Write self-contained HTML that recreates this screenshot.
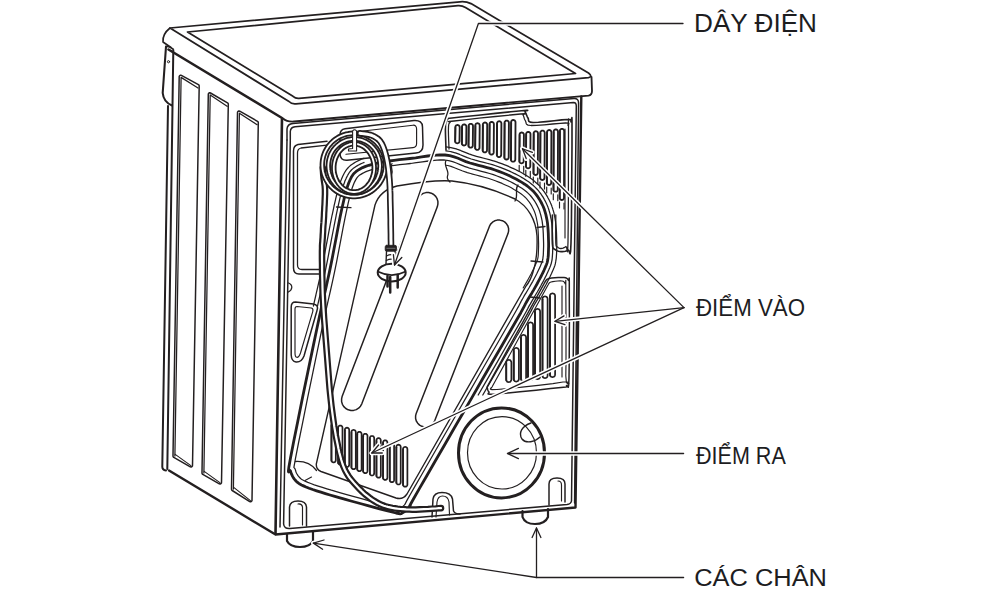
<!DOCTYPE html>
<html><head><meta charset="utf-8">
<style>
html,body{margin:0;padding:0;background:#fff;}
svg{display:block;}
text{font-family:"Liberation Sans",sans-serif;fill:#1d1d1f;}
</style></head>
<body>
<svg width="1000" height="601" viewBox="0 0 1000 601">
<g fill="none" stroke="#231f20" stroke-linecap="round" stroke-linejoin="round" stroke-width="1.4">
<path d="M170,28 L460,1.8 Q466,1.2 471,3.6 L588.5,73 Q593,76.5 588.5,77.6 L296,103.8 Q291.5,104.3 289,101.5 Z" stroke-width="1.72" />
<path d="M187.5,32 L458,5.7 Q462,5.4 465.5,7.6 L575.5,73.5 L299,98.3 Q295.5,98.6 293,96.3 Z" stroke-width="1.72" />
<path d="M170,28 C165,32 162.5,37 163,42 L171,47.5" stroke-width="1.61" />
<path d="M591.5,77 L592,91 Q592,95 588.5,95.6 L294,121.5 Q287,122 283,118.5" stroke-width="1.84" />
<path d="M168.5,49.5 L282,118 L275.5,534" stroke-width="2.6" />
<path d="M581.3,96.5 L575.5,507.5 L275.5,534.5 L169,470.5" stroke-width="2.4" />
<path d="M166,46.6 L162.7,93 Q163.5,102 172,105.5" stroke-width="2.07" />
<path d="M166,46.6 Q169,46 173,49" stroke-width="1.61" />
<circle cx="168.5" cy="61.7" r="1.1" stroke-width="1"/>
<path d="M168,106 L162.3,466 Q162,470 166,470.5" stroke-width="2.0" />
<path d="M173.3,50 L167.3,469" stroke-width="2.0" />
<path d="M181.4,75.4 L180.8,75.2 L180.2,75.3 L179.7,75.6 L179.3,76.1 L179.2,76.7 L173.0,456.1 L173.1,456.6 L173.4,457.1 L173.8,457.4 L190.3,466.8 L190.9,466.9 L191.5,466.9 L192.0,466.6 L192.4,466.1 L192.5,465.5 L199.2,85.9 L199.1,85.4 L198.8,84.9 L198.4,84.6 Z" stroke-width="1.49" />
<path d="M174.9,456.0 L181.1,77.4 L198.0,88.0" stroke-width="1.26" />
<path d="M175.2,454.4 L190.9,465.6" stroke-width="1.15" />
<path d="M210.5,93.0 L209.9,92.8 L209.3,92.8 L208.8,93.2 L208.4,93.7 L208.3,94.3 L202.0,473.1 L202.1,473.6 L202.4,474.1 L202.8,474.4 L219.3,483.8 L219.9,483.9 L220.5,483.9 L221.0,483.6 L221.4,483.1 L221.5,482.5 L228.3,104.2 L228.2,103.7 L227.9,103.2 L227.5,102.9 Z" stroke-width="1.49" />
<path d="M203.9,473.0 L210.2,94.9 L227.1,106.3" stroke-width="1.26" />
<path d="M204.2,471.4 L219.9,482.6" stroke-width="1.15" />
<path d="M239.7,111.2 L239.1,111.0 L238.5,111.1 L238.0,111.4 L237.6,111.9 L237.5,112.5 L231.5,489.2 L231.6,489.7 L231.8,490.1 L232.2,490.5 L249.7,501.6 L250.3,501.8 L251.0,501.7 L251.5,501.4 L251.9,500.9 L252.0,500.3 L258.3,122.6 L258.2,122.1 L257.9,121.6 L257.5,121.3 Z" stroke-width="1.49" />
<path d="M233.4,489.0 L239.4,113.2 L257.1,124.7" stroke-width="1.26" />
<path d="M233.7,487.4 L250.4,500.6" stroke-width="1.15" />
<path d="M287,140 L287,129 Q287.3,123.9 293,123.4 L574,98.5 Q578.6,98.3 578.6,103 L574.6,503" stroke-width="1.49" />
<path d="M287,140 L280,527" stroke-width="1.49" />
<path d="M290.3,140 L290.3,131.5 Q290.6,127.2 295,126.8 L573.5,102.5 Q576.3,102.5 576.3,106 L571.5,501 Q571,504 567,504.5 L290,528.5 Q284,529 283.6,524 L290.3,140" stroke-width="1.49" />
<path d="M350.0,180.0 L351.4,177.1 L352.8,174.9 L354.2,173.2 L355.9,171.7 L357.7,170.4 L360.0,169.0 L362.6,167.6 L365.6,166.4 L368.8,165.3 L372.2,164.3 L376.0,163.4 L380.0,162.5 L384.4,161.7 L389.1,161.0 L394.1,160.3 L399.3,159.7 L404.6,159.1 L410.0,158.5 L415.7,157.8 L421.7,156.9 L427.8,156.0 L433.9,155.3 L439.7,154.9 L445.0,155.0 L449.7,155.7 L454.1,156.9 L458.1,158.3 L462.0,160.0 L465.9,161.6 L470.0,163.0 L474.2,164.2 L478.5,165.3 L482.8,166.4 L487.0,167.6 L491.1,168.7 L495.0,170.0 L498.8,171.4 L502.5,172.8 L506.1,174.2 L509.5,175.8 L512.8,177.4 L516.0,179.0 L519.0,180.7 L521.9,182.4 L524.7,184.2 L527.3,186.0 L529.7,188.0 L532.0,190.0 L534.1,192.1 L536.0,194.4 L537.7,196.7 L539.3,199.1 L540.7,201.5 L542.0,204.0 L543.2,206.5 L544.2,209.0 L545.0,211.6 L545.8,214.3 L546.4,217.1 L547.0,220.0 L547.5,223.1 L547.8,226.4 L548.1,229.9 L548.3,233.3 L548.4,236.7 L548.5,240.0 L548.6,243.2 L548.6,246.4 L548.5,249.6 L548.4,252.7 L548.3,255.5 L548.0,258.0 L547.7,260.1 L547.4,261.7 L547.0,263.1 L546.5,264.5 L545.8,266.1 L545.0,268.0 L544.0,270.3 L542.8,272.8 L541.5,275.5 L540.0,278.3 L538.5,281.1 L537.0,284.0 L535.4,286.9 L533.7,289.9 L531.9,292.9 L530.0,295.9 L528.2,299.0 L526.5,302.0 L525.3,304.1 L524.8,305.2 L524.2,306.3 L523.1,308.4 L520.8,312.7 L516.6,320.0 L510.1,331.3 L501.8,345.7 L492.2,362.3 L482.1,379.8 L472.2,397.1 L463.0,413.0 L454.0,428.5 L444.7,444.8 L435.4,460.8 L426.8,475.7 L419.5,488.4 L414.0,498.0 L410.8,503.8 L409.4,506.4 L409.4,506.9 L409.9,506.3 L410.3,505.6 L410.0,506.0 L409.0,507.2 L407.9,508.5 L406.7,509.7 L405.4,510.8 L404.2,511.8 L403.0,512.5 L402.1,513.0 L401.7,513.5 L401.2,513.7 L400.3,513.8 L398.7,513.5 L396.0,513.0 L391.9,512.0 L386.6,510.7 L380.6,509.1 L374.2,507.4 L367.9,505.6 L362.0,504.0 L356.5,502.5 L350.9,501.0 L345.4,499.4 L340.0,497.9 L334.8,496.4 L330.0,495.0 L325.4,493.6 L320.9,492.2 L316.6,490.8 L312.7,489.5 L309.1,488.2 L306.0,487.0 L303.5,485.9 L301.5,485.0 L299.8,484.1 L298.5,483.2 L297.2,482.2 L296.0,481.0 L294.8,479.6 L293.6,478.1 L292.6,476.4 L291.8,474.7 L291.0,472.9 L290.5,471.0 L289.9,470.3 L289.1,471.1 L288.5,471.9 L288.4,471.0 L288.9,466.9 L290.5,458.0 L293.5,442.5 L297.8,421.3 L302.7,396.8 L307.9,371.8 L312.7,348.6 L316.6,330.0 L319.5,316.3 L321.9,305.6 L323.9,296.8 L325.7,288.9 L327.5,280.8 L329.5,271.6 L331.7,260.9 L333.9,249.5 L336.1,237.9 L338.2,226.8 L340.2,216.6 L342.0,208.0 L343.6,201.1 L344.9,195.4 L346.2,190.7 L347.4,186.8 L348.6,183.3 Z" stroke-width="2.8" />
<path d="M293.9,467.3 L294.1,467.6 L294.8,468.5 L295.3,469.6 L295.8,471.3 L296.3,472.7 L297.0,474.0 L297.8,475.3 L298.6,476.4 L299.6,477.5 L300.6,478.5 L301.5,479.2 L302.4,479.8 L303.7,480.5 L305.5,481.4 L307.9,482.4 L310.8,483.5 L314.3,484.8 L318.2,486.1 L322.4,487.4 L326.9,488.8 L331.4,490.2 L336.3,491.6 L341.4,493.1 L346.7,494.6 L352.2,496.1 L357.8,497.7 L363.3,499.2 L363.3,499.2 L369.2,500.8 L375.5,502.5 L381.9,504.3 L387.9,505.9 L393.1,507.2 L397.0,508.1 L399.6,508.6 L399.8,508.6 L400.3,508.3 L400.4,508.2 L401.4,507.6 L402.3,507.0 L403.2,506.1 L404.2,505.1 L404.9,504.3 L405.0,504.2 L406.3,501.6 L406.4,501.4 L409.6,495.6 L409.7,495.5 L415.2,485.9 L415.2,485.9 L422.5,473.2 L431.1,458.3 L440.3,442.3 L449.7,426.0 L458.7,410.5 L467.8,394.6 L477.8,377.3 L487.9,359.8 L497.5,343.2 L505.8,328.8 L512.3,317.5 L516.4,310.2 L518.7,306.1 L519.8,304.0 L520.3,303.0 L520.3,303.0 L520.9,301.9 L520.9,301.7 L522.1,299.6 L522.2,299.5 L523.9,296.5 L523.9,296.4 L525.7,293.4 L525.8,293.4 L527.6,290.3 L529.4,287.3 L531.0,284.4 L532.6,281.6 L534.1,278.8 L535.6,276.0 L537.0,273.3 L538.3,270.6 L539.4,268.2 L540.4,266.0 L541.2,264.1 L541.8,262.7 L542.2,261.6 L542.5,260.5 L542.8,259.2 L543.0,257.4 L543.3,255.1 L543.4,252.4 L543.5,249.5 L543.6,246.4 L543.6,243.3 L543.5,240.1 L543.4,236.9 L543.3,233.6 L543.1,230.2 L542.9,226.9 L542.5,223.8 L542.1,220.9 L541.5,218.1 L540.9,215.5 L540.2,213.1 L539.5,210.8 L538.6,208.5 L537.5,206.2 L536.3,203.9 L535.0,201.7 L533.6,199.6 L532.0,197.5 L530.4,195.5 L528.5,193.6 L526.5,191.8 L524.3,190.0 L521.9,188.3 L519.3,186.7 L516.5,185.0 L513.6,183.4 L510.6,181.8 L507.4,180.3 L504.1,178.8 L500.6,177.4 L497.0,176.0 L493.4,174.7 L489.6,173.5 L485.6,172.4 L481.5,171.3 L477.2,170.2 L477.2,170.2 L472.9,169.0 L472.8,169.0 L468.6,167.8 L468.4,167.7 L464.3,166.3 L464.0,166.2 L460.1,164.6 L460.1,164.6 L456.3,163.0 L452.6,161.6 L448.7,160.6 L444.6,160.0 L439.8,159.9 L434.3,160.3 L428.5,161.0 L422.4,161.8 L416.4,162.7 L416.3,162.7 L410.7,163.5 L410.6,163.5 L405.2,164.1 L405.1,164.1 L399.8,164.7 L394.7,165.3 L389.8,165.9 L385.2,166.6 L381.0,167.4 L377.1,168.3 L373.5,169.1 L370.3,170.1 L367.3,171.1 L364.8,172.2 L362.5,173.4 L360.5,174.6 L359.0,175.6 L357.9,176.6 L356.9,177.8 L355.8,179.6 L354.5,182.1 L353.3,185.1 L352.1,188.3 L351.0,192.1 L349.8,196.6 L348.4,202.2 L346.9,209.1 L345.1,217.6 L343.1,227.7 L341.0,238.8 L338.8,250.4 L338.8,250.4 L336.6,261.8 L336.6,261.9 L334.4,272.6 L334.4,272.6 L332.4,281.9 L332.4,281.9 L330.6,290.0 L330.6,290.0 L328.8,297.9 L326.8,306.7 L324.4,317.4 L321.5,331.0 L317.6,349.7 L312.8,372.8 L307.6,397.8 L302.7,422.3 L298.4,443.5 L295.4,458.9 Z" stroke-width="1.26" />
<path d="M478.2,395.0 L485.8,381.9 L495.9,364.4 L505.4,347.8 L513.8,333.3 L513.8,333.3 L520.2,322.1 L520.3,322.1 L524.4,314.7 L524.4,314.7 L526.8,310.5 L526.8,310.4 L528.0,308.3 L528.0,308.1 L528.5,307.1 L529.0,306.1 L530.2,304.1 L531.9,301.1 L533.7,298.1 L535.5,295.0 L535.5,295.0 L537.3,292.0 L537.3,292.0 L539.0,289.0 L539.1,288.9 L540.7,286.0 L540.7,286.0 L542.2,283.1 L542.3,283.1 L543.8,280.3 L543.8,280.2 L545.2,277.4 L545.2,277.4 L546.6,274.7 L546.6,274.6 L547.8,272.1 L547.8,272.0 L548.8,269.7 L548.9,269.6 L549.7,267.7 L549.7,267.7 L550.3,266.1 L550.4,266.0 L550.9,264.6 L551.0,264.3 L551.4,262.8 L551.5,262.5 L551.8,260.9 L551.9,260.7 L552.2,258.6 L552.2,258.4 L552.4,255.9 L552.4,255.7 L552.6,252.9 L552.6,252.8 L552.7,249.8 L552.7,249.7 L552.8,246.5 L552.8,246.4 L552.8,243.2 L552.8,243.1 L552.7,239.9 L552.7,239.9 L552.6,236.6 L552.6,236.6 L552.5,233.2 L552.5,233.1 L552.3,229.7 L552.3,229.6 L552.0,226.1 L552.0,226.0 L551.7,222.7 L551.6,222.5 L551.2,219.4 L551.1,219.2 L550.5,216.3 L550.5,216.1 L549.9,213.3 L549.8,213.2 L549.1,210.5 L549.0,210.3 L548.2,207.7 L548.1,207.5 L547.1,205.0 L547.0,204.7 L545.8,202.2 L545.7,202.0 L544.4,199.6 L544.3,199.4 L542.9,196.9 L542.8,196.8 L541.2,194.4 L541.1,194.2 L539.3,191.9 L539.2,191.7 L537.3,189.4 L537.1,189.2 L535.0,187.1 L534.8,186.9 L532.5,184.8 L532.3,184.7 L529.9,182.7 L529.7,182.6 L527.1,180.8 L527.0,180.7 L524.2,178.9 L524.1,178.8 L521.2,177.1 L521.1,177.0 L518.0,175.3 L517.9,175.3 L514.8,173.6 L514.6,173.6 L511.3,172.0 L511.2,171.9 L507.8,170.4 L507.7,170.4 L504.1,168.9 L504.0,168.9 L500.3,167.4 L500.2,167.4 L496.4,166.0 L496.3,166.0 L492.4,164.7 L492.2,164.7 L488.1,163.5 L488.0,163.5 L483.8,162.4 L483.8,162.4 L479.5,161.3 L475.3,160.2 L471.3,159.0 L467.4,157.7 L463.6,156.1 L459.7,154.5 L459.6,154.4 L455.5,152.9 L455.2,152.8 L450.8,151.6 L450.3,151.5 L446.0,150.9 M364.0,162.5 L363.9,162.5 L361.0,163.8 L360.7,163.9 L358.1,165.3 L357.8,165.4 L355.6,166.8 L355.3,166.9 L353.4,168.3 L353.0,168.6 L351.4,170.0 L351.0,170.5 L349.6,172.2 L349.2,172.7 L347.9,174.9 L347.7,175.3 L346.2,178.1 L346.1,178.4 L344.7,181.6 L344.7,181.9 L343.4,185.3 L343.3,185.5 L342.1,189.5 L342.1,189.6 L340.9,194.3 L340.8,194.4 L339.5,200.1 L339.5,200.1 L337.9,207.1 L337.9,207.1 L336.1,215.7 L336.1,215.8 L334.1,225.9 L334.1,226.0 L331.9,237.1 L331.9,237.1 L329.7,248.7 L327.5,260.1 L325.4,270.7 L323.4,279.9 L321.6,287.9 L319.8,295.8 L319.8,295.8 L317.8,304.6 L317.8,304.7 L317.5,306.0" stroke-width="1.26" />
<path d="M482.8,395.0 L489.2,383.9 L499.3,366.4 L508.9,349.8 L517.2,335.3 L517.3,335.3 L523.7,324.1 L523.7,324.1 L527.9,316.7 L527.9,316.6 L530.3,312.4 L530.4,312.3 L531.5,310.1 L531.6,309.9 L532.1,308.9 L532.6,308.0 L533.6,306.0 L535.3,303.1 L537.1,300.1 L538.9,297.1 L538.9,297.1 L540.7,294.0 L540.8,294.0 L542.5,291.0 L542.5,290.9 L544.2,288.0 L544.2,287.9 L545.8,285.0 L545.8,285.0 L547.3,282.1 L547.3,282.0 L548.8,279.2 L548.8,279.1 L550.1,276.4 L550.2,276.3 L551.4,273.8 L551.5,273.6 L552.5,271.3 L552.5,271.2 L553.4,269.3 L553.4,269.2 L554.0,267.6 L554.2,267.3 L554.7,265.9 L554.9,265.4 L555.3,263.9 L555.4,263.3 L555.7,261.7 L555.8,261.2 L556.1,259.2 L556.2,258.8 L556.4,256.3 L556.4,256.0 L556.6,253.2 L556.6,253.0 L556.7,249.9 L556.7,249.7 L556.8,246.6 L556.8,246.4 L556.8,243.2 L556.8,243.1 L556.7,239.8 L556.7,239.8 L556.6,236.5 L556.6,236.4 L556.5,233.0 L556.5,232.9 L556.3,229.4 L556.3,229.3 L556.0,225.8 L556.0,225.6 L555.6,222.2 L555.6,221.9 L555.1,218.8 L555.0,218.4 L554.5,215.5 L554.4,215.2 L553.8,212.4 L553.7,212.1 L552.9,209.4 L552.8,209.0 L551.9,206.4 L551.8,206.0 L550.8,203.5 L550.6,203.1 L549.4,200.5 L549.3,200.2 L547.9,197.7 L547.8,197.4 L546.3,194.9 L546.1,194.6 L544.5,192.2 L544.3,191.8 L542.5,189.5 L542.2,189.1 L540.3,186.8 L540.0,186.4 L537.9,184.3 L537.5,183.9 L535.2,181.9 L534.8,181.5 L532.4,179.6 L532.0,179.3 L529.4,177.5 L529.1,177.3 L526.4,175.5 L526.1,175.4 L523.2,173.6 L523.0,173.5 L520.0,171.8 L519.8,171.7 L516.6,170.1 L516.4,170.0 L513.1,168.4 L512.8,168.3 L509.4,166.8 L509.2,166.7 L505.6,165.2 L505.4,165.1 L501.7,163.7 L501.6,163.6 L497.8,162.3 L497.5,162.2 L493.6,160.9 L493.3,160.8 L489.2,159.7 L489.1,159.6 L484.9,158.5 L484.8,158.5 L480.6,157.4 L476.4,156.3 L472.5,155.2 L468.9,153.9 L465.2,152.4 L461.3,150.8 L461.0,150.6 L456.9,149.2 L456.2,148.9 L451.9,147.8 L450.9,147.6 L446.2,146.9 L446.0,146.9 M364.0,158.3 L362.9,158.7 L362.4,158.8 L359.5,160.1 L358.9,160.4 L356.2,161.7 L355.7,162.0 L353.5,163.4 L353.0,163.7 L351.1,165.0 L350.3,165.6 L348.7,167.1 L347.9,168.0 L346.5,169.7 L345.8,170.6 L344.5,172.8 L344.1,173.5 L342.7,176.3 L342.5,176.8 L341.1,180.1 L340.9,180.5 L339.6,184.0 L339.5,184.4 L338.3,188.3 L338.2,188.6 L337.0,193.3 L337.0,193.5 L335.6,199.2 L335.6,199.3 L334.0,206.2 L334.0,206.3 L332.2,214.9 L332.1,215.0 L330.1,225.2 L330.1,225.2 L328.0,236.4 L328.0,236.4 L325.8,247.9 L323.6,259.3 L321.5,269.9 L319.5,279.1 L317.7,287.1 L315.9,294.9 L315.9,295.0 L313.9,303.7 L313.9,303.8 L313.4,306.0" stroke-width="1.26" />
<path d="M523.2,287.9 L523.3,287.8 L525.0,284.8 L526.7,281.9 L528.2,279.2 L529.7,276.4 L531.2,273.7 L532.5,271.0 L533.8,268.5 L534.9,266.1 L535.8,264.0 L536.6,262.2 L537.1,260.9 L537.4,260.1 L537.6,259.4 L537.8,258.4 L538.1,256.8 L538.3,254.7 L538.4,252.2 L538.5,249.4 L538.6,246.4 L538.6,243.3 L538.5,240.2 L538.4,237.1 L538.3,233.8 L538.1,230.5 L537.9,227.4 L537.6,224.4 L537.1,221.7 L536.6,219.2 L536.1,216.8 L535.5,214.6 L534.8,212.5 L534.0,210.5 L533.0,208.4 L532.0,206.4 L530.8,204.4 L529.5,202.4 L528.1,200.6 L526.7,198.9 L525.1,197.2 L523.3,195.6 L521.3,194.0 L519.1,192.5 L516.7,190.9 L514.0,189.4 L511.3,187.8 L508.4,186.3 L505.3,184.9 L502.1,183.4 L498.8,182.1 L495.3,180.7 L491.8,179.5 L488.2,178.3 L484.3,177.2 L480.2,176.1 L476.0,175.0 L475.9,175.0 L471.6,173.9 L471.5,173.8 L467.3,172.6 L466.7,172.4 L462.7,171.0 L462.1,170.8 L458.2,169.2 L458.2,169.2 L454.5,167.7 L451.0,166.4 L447.7,165.5 L446.0,165.2" stroke-width="1.15" />
<path d="M446,160.5 C443,166 450,171 447.5,176 C446.5,179 449,181 450,182" stroke-width="1.26" />
<path d="M518,185 C514,190 519,195 515,201" stroke-width="1.26" />
<path d="M537,227.5 L545,226.5" stroke-width="1.26" />
<path d="M392,163.5 C389.5,167 394,170 391.5,175 L391,186" stroke-width="1.26" />
<path d="M336.5,207 L351,207.6" stroke-width="1.26" />
<path d="M530,297 L540,298" stroke-width="1.26" />
<path d="M531,261 L543,262" stroke-width="1.26" />
<path d="M375,205 C378,196 385,189 397,186 C420,182 440,180 452,181 C480,184 500,192 515,199 C528,206 536,220 537,236 C537.5,250 536.5,262 533,272 C531,279 528.5,283 526,286 L407,494 Q403,500 396,498 L321,471.5 Q316,469.5 316.3,464 Z" stroke-width="1.38" />
<path d="M295.5,461.5 C304,461 312,464.5 316.5,470.5" stroke-width="1.26" />
<path d="M305,480.5 L311.5,477" stroke-width="1.15" />
<path d="M342.2,396.2 L341.6,398.9 L341.6,401.6 L342.4,404.3 L343.8,406.6 L345.8,408.5 L348.2,409.8 L350.9,410.4 L353.6,410.4 L356.3,409.6 L358.6,408.2 L360.5,406.2 L361.8,403.8 L437.3,206.8 L437.9,204.1 L437.9,201.4 L437.1,198.7 L435.7,196.4 L433.7,194.5 L431.3,193.2 L428.6,192.6 L425.9,192.6 L423.2,193.4 L420.9,194.8 L419.0,196.8 L417.7,199.2 Z" stroke-width="1.49" />
<path d="M416.2,413.4 L415.6,415.9 L415.6,418.5 L416.3,421.0 L417.7,423.2 L419.6,425.1 L421.9,426.3 L424.4,426.9 L427.0,426.9 L429.5,426.2 L431.7,424.8 L433.6,422.9 L434.8,420.6 L508.0,233.6 L508.6,231.1 L508.6,228.5 L507.9,226.0 L506.5,223.8 L504.6,221.9 L502.3,220.7 L499.8,220.1 L497.2,220.1 L494.7,220.8 L492.5,222.2 L490.6,224.1 L489.4,226.4 Z" stroke-width="1.49" />
<path d="M327,141.2 L298,144.5 Q293.5,145.5 293.5,151 L293.5,268 Q293.5,274 299,274 L319,274" stroke-width="1.49" />
<path d="M327,145.2 L301,148 Q297.5,148.7 297.5,153 L297.5,265 Q297.5,269.5 302,269.5 L319,269.5" stroke-width="1.26" />
<path d="M345,128.8 L414,120.5 Q422.5,120 422.5,127 L423,145 Q423,152.5 416,153 L347,160.2 Q340,160.7 340,153 L340,135 Q340,129.5 345,128.8 Z" stroke-width="1.49" />
<path d="M346,133 L413,125.2 Q416.6,125 416.6,129 L416.6,143.5 Q416.6,147.3 413,147.6 L346,154.3" stroke-width="1.15" />
<path d="M295.5,302 L313.5,304 Q319,305 317,310.5 L304,356 Q301.5,362.5 296,362 Q291.5,361.5 291.2,355 L291.2,307 Q291.2,302 295.5,302 Z" stroke-width="1.49" />
<path d="M297,306.5 L311.5,308 Q313.5,308.8 312.8,311.3 L300.5,353 Q299,357.5 296.8,357.3 Q295,357 295,353 L295,309 Q295,306.5 297,306.5 Z" stroke-width="1.15" />
<path d="M288.6,283 Q292,284.5 291.8,287.5 Q291.5,290.5 288.3,292" stroke-width="1.26" />
<path d="M446.0,150.0 L445.9,146.3 L445.7,140.9 L445.5,134.8 L445.4,129.2 L445.5,125.0 L445.8,122.5 L446.2,121.0 L446.7,120.1 L447.4,119.6 L448.0,119.0 L447.7,118.6 L446.3,118.5 L445.6,118.6 L447.0,118.5 L452.0,118.0 L462.8,116.8 L478.3,115.2 L495.3,113.4 L510.8,111.8 L521.5,110.8 L526.4,110.4 L527.7,110.4 L526.8,110.6 L525.4,111.1 L525.0,111.8 L525.6,112.7 L526.1,114.0 L526.7,115.4 L527.3,116.8 L528.0,118.0 L528.4,119.1 L528.5,120.3 L528.8,121.3 L530.1,122.1 L533.0,122.5 L538.4,122.3 L546.0,121.6 L554.2,120.7 L561.7,119.9 L567.0,119.5 L569.8,119.6 L570.9,119.9 L571.1,120.5 L570.9,121.2 L571.0,122.0 L571.4,121.2 L571.7,118.9 L571.9,117.6 L572.0,119.8 L572.0,128.0 L572.0,145.8 L571.8,171.3 L571.6,199.5 L571.4,225.2 L571.0,243.0 L570.6,251.4 L570.1,253.8 L569.6,252.8 L568.9,250.7 L568.0,250.0 L566.8,250.7 L565.4,251.2 L563.9,251.5 L562.4,251.6 L561.0,251.6 L559.7,251.5 L558.4,251.2 L557.1,250.8 L556.0,250.2 L555.0,249.5 L554.2,249.0 L553.6,248.7 L553.1,248.1 L552.7,246.7 L552.4,244.0 L552.2,239.2 L552.2,232.7 L552.3,225.6 L552.4,219.3 L552.4,215.0" stroke-width="1.61" />
<path d="M449.0,149.0 L448.9,145.7 L448.7,141.0 L448.5,135.6 L448.4,130.7 L448.5,127.0 L448.7,124.8 L449.0,123.6 L449.5,122.9 L450.0,122.5 L450.5,122.0 L450.1,121.6 L448.8,121.6 L448.0,121.6 L449.2,121.5 L454.0,121.0 L464.3,119.9 L479.1,118.2 L495.5,116.5 L510.3,115.0 L520.5,114.0 L525.1,113.6 L526.1,113.6 L525.1,113.9 L523.5,114.4 L523.0,115.0 L523.5,115.9 L523.9,117.1 L524.3,118.5 L524.8,119.8 L525.5,121.0 L525.9,122.1 L526.1,123.2 L526.6,124.3 L528.0,125.1 L531.0,125.5 L536.6,125.4 L544.2,124.8 L552.6,124.0 L560.2,123.3 L565.5,123.0 L568.1,123.2 L568.9,123.6 L568.7,124.3 L568.1,124.9 L568.0,125.5 L568.2,124.2 L568.4,121.1 L568.5,119.0 L568.5,120.4 L568.5,128.0 L568.5,145.4 L568.4,170.8 L568.4,198.9 L568.2,224.4 L568.0,242.0 L567.7,249.9 L567.5,251.8 L567.1,250.1 L566.6,247.5 L566.0,246.5 L565.2,247.1 L564.1,247.6 L563.0,248.1 L562.0,248.4 L561.0,248.5 L560.2,248.5 L559.4,248.3 L558.7,247.9 L558.1,247.5 L557.5,247.0 L557.0,246.7 L556.6,246.7 L556.3,246.4 L556.0,245.4 L555.8,243.0 L555.7,238.5 L555.7,232.2 L555.7,225.3 L555.8,219.2 L555.8,215.0" stroke-width="1.26" />
<path d="M565,129 L565,238" stroke-width="1.15" />
<path d="M455.1,141.1 L455.2,141.6 L455.4,142.2 L455.7,142.6 L456.2,143.0 L456.7,143.2 L457.3,143.3 L457.8,143.2 L458.4,143.0 L458.8,142.7 L459.2,142.2 L459.4,141.7 L459.5,141.1 L459.7,127.2 L459.6,126.7 L459.4,126.1 L459.1,125.7 L458.6,125.3 L458.1,125.1 L457.5,125.0 L457.0,125.1 L456.4,125.3 L456.0,125.6 L455.6,126.1 L455.4,126.6 L455.3,127.2 Z" stroke-width="1.84" />
<path d="M455.5,127.5 L455.3,141.8" stroke-width="1.61" />
<path d="M461.8,143.3 L461.9,143.9 L462.1,144.4 L462.4,144.8 L462.9,145.2 L463.4,145.4 L464.0,145.5 L464.5,145.4 L465.1,145.2 L465.5,144.9 L465.9,144.4 L466.1,143.9 L466.2,143.3 L466.4,126.6 L466.3,126.1 L466.1,125.5 L465.8,125.1 L465.3,124.7 L464.8,124.5 L464.2,124.4 L463.7,124.5 L463.1,124.7 L462.7,125.0 L462.3,125.5 L462.1,126.0 L462.0,126.6 Z" stroke-width="1.84" />
<path d="M462.2,126.9 L462.0,144.0" stroke-width="1.61" />
<path d="M468.4,145.5 L468.5,146.0 L468.7,146.6 L469.0,147.0 L469.5,147.4 L470.0,147.6 L470.6,147.7 L471.1,147.6 L471.7,147.4 L472.1,147.1 L472.5,146.6 L472.7,146.1 L472.8,145.5 L473.0,126.0 L472.9,125.5 L472.7,124.9 L472.4,124.5 L471.9,124.1 L471.4,123.9 L470.8,123.8 L470.3,123.9 L469.7,124.1 L469.3,124.4 L468.9,124.9 L468.7,125.4 L468.6,126.0 Z" stroke-width="1.84" />
<path d="M468.8,126.3 L468.6,146.2" stroke-width="1.61" />
<path d="M475.1,147.7 L475.2,148.3 L475.4,148.8 L475.7,149.2 L476.2,149.6 L476.7,149.8 L477.3,149.9 L477.9,149.8 L478.4,149.6 L478.8,149.3 L479.2,148.8 L479.4,148.3 L479.5,147.7 L479.7,125.4 L479.6,124.8 L479.4,124.3 L479.1,123.9 L478.6,123.5 L478.1,123.3 L477.5,123.2 L476.9,123.3 L476.4,123.5 L476.0,123.8 L475.6,124.3 L475.4,124.8 L475.3,125.4 Z" stroke-width="1.84" />
<path d="M475.5,125.7 L475.3,148.4" stroke-width="1.61" />
<path d="M482.6,150.2 L482.7,150.7 L482.9,151.3 L483.2,151.7 L483.7,152.1 L484.2,152.3 L484.8,152.4 L485.4,152.3 L485.9,152.1 L486.3,151.7 L486.7,151.3 L486.9,150.8 L487.0,150.2 L487.2,124.7 L487.1,124.2 L486.9,123.6 L486.6,123.2 L486.1,122.8 L485.6,122.6 L485.0,122.5 L484.4,122.6 L483.9,122.8 L483.5,123.2 L483.1,123.6 L482.9,124.1 L482.8,124.7 Z" stroke-width="1.84" />
<path d="M483.0,125.0 L482.8,150.9" stroke-width="1.61" />
<path d="M489.3,152.4 L489.4,152.9 L489.6,153.5 L489.9,153.9 L490.4,154.3 L490.9,154.5 L491.5,154.6 L492.1,154.5 L492.6,154.3 L493.0,154.0 L493.4,153.5 L493.6,153.0 L493.7,152.4 L493.9,124.1 L493.8,123.6 L493.6,123.0 L493.3,122.6 L492.8,122.2 L492.3,122.0 L491.7,121.9 L491.1,122.0 L490.6,122.2 L490.2,122.6 L489.8,123.0 L489.6,123.5 L489.5,124.1 Z" stroke-width="1.84" />
<path d="M489.7,124.4 L489.5,153.1" stroke-width="1.61" />
<path d="M496.8,154.8 L496.9,155.4 L497.1,155.9 L497.4,156.4 L497.9,156.8 L498.4,157.0 L499.0,157.1 L499.6,157.0 L500.1,156.8 L500.5,156.4 L500.9,156.0 L501.1,155.4 L501.2,154.9 L501.4,123.5 L501.3,122.9 L501.1,122.4 L500.8,121.9 L500.3,121.5 L499.8,121.3 L499.2,121.2 L498.6,121.3 L498.1,121.5 L497.7,121.9 L497.3,122.3 L497.1,122.9 L497.0,123.4 Z" stroke-width="1.84" />
<path d="M497.2,123.7 L497.0,155.6" stroke-width="1.61" />
<path d="M504.3,157.3 L504.4,157.9 L504.6,158.4 L504.9,158.9 L505.4,159.2 L505.9,159.5 L506.5,159.5 L507.1,159.5 L507.6,159.2 L508.0,158.9 L508.4,158.4 L508.6,157.9 L508.7,157.3 L508.9,122.8 L508.8,122.2 L508.6,121.7 L508.3,121.2 L507.8,120.9 L507.3,120.7 L506.7,120.6 L506.1,120.6 L505.6,120.9 L505.2,121.2 L504.8,121.7 L504.6,122.2 L504.5,122.8 Z" stroke-width="1.84" />
<path d="M504.7,123.1 L504.5,158.0" stroke-width="1.61" />
<path d="M510.9,159.5 L511.0,160.1 L511.2,160.6 L511.5,161.1 L512.0,161.4 L512.5,161.6 L513.1,161.7 L513.7,161.6 L514.2,161.4 L514.6,161.1 L515.0,160.6 L515.2,160.1 L515.3,159.5 L515.5,122.2 L515.4,121.6 L515.2,121.1 L514.9,120.6 L514.4,120.3 L513.9,120.1 L513.3,120.0 L512.7,120.0 L512.2,120.3 L511.8,120.6 L511.4,121.1 L511.2,121.6 L511.1,122.2 Z" stroke-width="1.84" />
<path d="M511.3,122.5 L511.1,160.2" stroke-width="1.61" />
<path d="M519.3,161.1 L519.4,161.7 L519.6,162.2 L519.9,162.6 L520.4,163.0 L520.9,163.2 L521.5,163.3 L522.1,163.2 L522.6,163.0 L523.0,162.7 L523.4,162.2 L523.6,161.7 L523.7,161.1 L523.9,134.7 L523.8,134.1 L523.6,133.6 L523.3,133.2 L522.8,132.8 L522.3,132.6 L521.7,132.5 L521.1,132.6 L520.6,132.8 L520.2,133.1 L519.8,133.6 L519.6,134.1 L519.5,134.7 Z" stroke-width="1.84" />
<path d="M519.7,135.0 L519.5,161.8" stroke-width="1.61" />
<path d="M519.2,165.3 L519.2,171.3 M523.7,166.3 L523.7,172.3" stroke-width="1.15" />
<path d="M525.9,166.1 L526.0,166.7 L526.2,167.2 L526.5,167.6 L527.0,168.0 L527.5,168.2 L528.1,168.3 L528.7,168.2 L529.2,168.0 L529.6,167.7 L530.0,167.2 L530.2,166.7 L530.3,166.1 L530.5,134.1 L530.4,133.5 L530.2,133.0 L529.9,132.6 L529.4,132.2 L528.9,132.0 L528.3,131.9 L527.7,132.0 L527.2,132.2 L526.8,132.5 L526.4,133.0 L526.2,133.5 L526.1,134.1 Z" stroke-width="1.84" />
<path d="M526.3,134.4 L526.1,166.8" stroke-width="1.61" />
<path d="M525.8,170.3 L525.8,176.3 M530.3,171.3 L530.3,177.3" stroke-width="1.15" />
<path d="M533.4,172.8 L533.5,173.4 L533.7,173.9 L534.0,174.3 L534.5,174.7 L535.0,174.9 L535.6,175.0 L536.2,174.9 L536.7,174.7 L537.1,174.4 L537.5,173.9 L537.7,173.4 L537.8,172.8 L538.0,133.4 L537.9,132.9 L537.7,132.3 L537.4,131.9 L536.9,131.5 L536.4,131.3 L535.8,131.2 L535.2,131.3 L534.7,131.5 L534.3,131.9 L533.9,132.3 L533.7,132.9 L533.6,133.4 Z" stroke-width="1.84" />
<path d="M533.8,133.7 L533.6,173.5" stroke-width="1.61" />
<path d="M533.3,177.0 L533.3,183.0 M537.8,178.0 L537.8,184.0" stroke-width="1.15" />
<path d="M540.1,177.8 L540.2,178.4 L540.4,178.9 L540.7,179.3 L541.2,179.7 L541.7,179.9 L542.3,180.0 L542.9,179.9 L543.4,179.7 L543.8,179.4 L544.2,178.9 L544.4,178.4 L544.5,177.8 L544.7,132.8 L544.6,132.3 L544.4,131.7 L544.1,131.3 L543.6,130.9 L543.1,130.7 L542.5,130.6 L541.9,130.7 L541.4,130.9 L541.0,131.3 L540.6,131.7 L540.4,132.2 L540.3,132.8 Z" stroke-width="1.84" />
<path d="M540.5,133.1 L540.3,178.5" stroke-width="1.61" />
<path d="M540.0,182.0 L540.0,188.0 M544.5,183.0 L544.5,189.0" stroke-width="1.15" />
<path d="M546.8,182.8 L546.9,183.4 L547.1,183.9 L547.4,184.3 L547.9,184.7 L548.4,184.9 L549.0,185.0 L549.6,184.9 L550.1,184.7 L550.5,184.4 L550.9,183.9 L551.1,183.4 L551.2,182.8 L551.4,132.2 L551.3,131.7 L551.1,131.1 L550.8,130.7 L550.3,130.3 L549.8,130.1 L549.2,130.0 L548.6,130.1 L548.1,130.3 L547.7,130.7 L547.3,131.1 L547.1,131.6 L547.0,132.2 Z" stroke-width="1.84" />
<path d="M547.2,132.5 L547.0,183.5" stroke-width="1.61" />
<path d="M546.7,187.0 L546.7,193.0 M551.2,188.0 L551.2,194.0" stroke-width="1.15" />
<path d="M553.4,189.5 L553.5,190.1 L553.7,190.6 L554.0,191.1 L554.5,191.4 L555.0,191.6 L555.6,191.7 L556.2,191.6 L556.7,191.4 L557.2,191.1 L557.5,190.6 L557.7,190.1 L557.8,189.5 L558.0,131.6 L557.9,131.1 L557.7,130.5 L557.4,130.1 L556.9,129.7 L556.4,129.5 L555.8,129.4 L555.2,129.5 L554.7,129.7 L554.2,130.1 L553.9,130.5 L553.7,131.1 L553.6,131.6 Z" stroke-width="1.84" />
<path d="M553.8,131.9 L553.6,190.2" stroke-width="1.61" />
<path d="M553.3,193.7 L553.3,199.7 M557.8,194.7 L557.8,200.7" stroke-width="1.15" />
<path d="M559.6,197.8 L559.7,198.4 L559.9,198.9 L560.2,199.4 L560.7,199.7 L561.2,199.9 L561.8,200.0 L562.4,199.9 L562.9,199.7 L563.4,199.4 L563.7,198.9 L563.9,198.4 L564.0,197.8 L564.2,131.1 L564.1,130.5 L563.9,130.0 L563.6,129.5 L563.1,129.2 L562.6,128.9 L562.0,128.9 L561.4,128.9 L560.9,129.2 L560.4,129.5 L560.1,130.0 L559.9,130.5 L559.8,131.1 Z" stroke-width="1.84" />
<path d="M560.0,131.4 L559.8,198.5" stroke-width="1.61" />
<path d="M559.5,202.0 L559.5,208.0 M564.0,203.0 L564.0,209.0" stroke-width="1.15" />
<path d="M545.0,282.0 L545.4,281.5 L545.8,280.7 L546.4,279.9 L547.4,279.1 L549.0,278.5 L551.5,278.1 L554.7,277.7 L558.2,277.5 L561.5,277.4 L564.0,277.5 L565.6,277.8 L566.7,278.2 L567.5,278.9 L568.0,279.6 L568.5,280.5 L568.9,280.2 L569.1,278.8 L569.2,278.1 L569.3,280.2 L569.3,287.0 L569.3,301.1 L569.4,321.3 L569.3,343.6 L569.2,363.8 L569.0,378.0 L568.7,384.9 L568.3,387.3 L567.8,386.9 L567.2,385.7 L566.5,385.5 L566.6,386.2 L567.4,386.5 L567.7,386.6 L566.0,386.9 L561.0,387.5 L550.7,388.6 L536.1,390.2 L520.0,391.8 L505.3,393.2 L495.0,394.0 L489.9,394.2 L488.1,394.0 L488.2,393.4 L489.0,392.7 L489.0,392.0 L488.3,391.1 L487.8,390.0 L487.5,388.8 L487.2,387.7 L487.0,387.0 L545,282" stroke-width="1.49" />
<path d="M548.0,285.0 L548.3,284.6 L548.6,283.9 L549.1,283.2 L549.8,282.5 L551.0,282.0 L552.8,281.6 L555.2,281.3 L557.8,281.0 L560.2,280.9 L562.0,281.0 L563.2,281.3 L564.0,281.9 L564.6,282.5 L564.9,283.3 L565.3,284.0 L565.6,283.4 L565.7,281.5 L565.8,280.3 L565.8,281.8 L565.8,288.0 L565.9,301.5 L566.0,321.1 L566.0,342.7 L566.0,362.3 L565.8,376.0 L566.4,382.4 L567.9,384.2 L568.8,383.4 L567.6,382.0 L563.0,382.0 L552.9,383.6 L538.2,385.4 L522.0,387.1 L507.3,388.6 L497.0,389.5 L492.0,389.6 L490.4,389.1 L490.7,388.3 L491.7,387.5 L492.0,387.0 L548,285" stroke-width="1.15" />
<path d="M562,286 L562,377" stroke-width="1.15" />
<path d="M506.1,379.5 L506.2,380.2 L506.5,380.8 L506.9,381.3 L507.4,381.8 L508.1,382.0 L508.8,382.1 L509.4,382.0 L510.1,381.8 L510.6,381.3 L511.0,380.8 L511.3,380.2 L511.4,379.5 L511.4,362.5 L511.3,361.8 L511.0,361.2 L510.6,360.7 L510.1,360.2 L509.4,360.0 L508.8,359.9 L508.1,360.0 L507.4,360.2 L506.9,360.7 L506.5,361.2 L506.2,361.8 L506.1,362.5 Z" stroke-width="1.72" />
<path d="M506.4,362.8 L506.4,380.5" stroke-width="1.61" />
<path d="M513.6,379.0 L513.7,379.7 L514.0,380.3 L514.4,380.8 L515.0,381.3 L515.6,381.5 L516.2,381.6 L516.9,381.5 L517.5,381.3 L518.1,380.8 L518.5,380.3 L518.8,379.7 L518.9,379.0 L518.9,350.5 L518.8,349.8 L518.5,349.2 L518.1,348.7 L517.5,348.2 L516.9,348.0 L516.2,347.9 L515.6,348.0 L515.0,348.2 L514.4,348.7 L514.0,349.2 L513.7,349.8 L513.6,350.5 Z" stroke-width="1.72" />
<path d="M513.9,350.8 L513.9,380.0" stroke-width="1.61" />
<path d="M520.9,378.5 L521.0,379.2 L521.2,379.8 L521.7,380.3 L522.2,380.8 L522.8,381.0 L523.5,381.1 L524.2,381.0 L524.8,380.8 L525.3,380.3 L525.8,379.8 L526.0,379.2 L526.1,378.5 L526.1,337.5 L526.0,336.8 L525.8,336.2 L525.3,335.7 L524.8,335.2 L524.2,335.0 L523.5,334.9 L522.8,335.0 L522.2,335.2 L521.7,335.7 L521.2,336.2 L521.0,336.8 L520.9,337.5 Z" stroke-width="1.72" />
<path d="M521.1,337.8 L521.1,379.5" stroke-width="1.61" />
<path d="M527.9,377.5 L528.0,378.2 L528.2,378.8 L528.7,379.3 L529.2,379.8 L529.8,380.0 L530.5,380.1 L531.2,380.0 L531.8,379.8 L532.3,379.3 L532.8,378.8 L533.0,378.2 L533.1,377.5 L533.1,325.0 L533.0,324.3 L532.8,323.7 L532.3,323.2 L531.8,322.7 L531.2,322.5 L530.5,322.4 L529.8,322.5 L529.2,322.7 L528.7,323.2 L528.2,323.7 L528.0,324.3 L527.9,325.0 Z" stroke-width="1.72" />
<path d="M528.1,325.3 L528.1,378.5" stroke-width="1.61" />
<path d="M534.9,376.5 L535.0,377.2 L535.2,377.8 L535.7,378.3 L536.2,378.8 L536.8,379.0 L537.5,379.1 L538.2,379.0 L538.8,378.8 L539.3,378.3 L539.8,377.8 L540.0,377.2 L540.1,376.5 L540.1,311.5 L540.0,310.8 L539.8,310.2 L539.3,309.7 L538.8,309.2 L538.2,309.0 L537.5,308.9 L536.8,309.0 L536.2,309.2 L535.7,309.7 L535.2,310.2 L535.0,310.8 L534.9,311.5 Z" stroke-width="1.72" />
<path d="M535.1,311.8 L535.1,377.5" stroke-width="1.61" />
<path d="M542.4,375.5 L542.5,376.2 L542.7,376.8 L543.2,377.3 L543.7,377.8 L544.3,378.0 L545.0,378.1 L545.7,378.0 L546.3,377.8 L546.8,377.3 L547.3,376.8 L547.5,376.2 L547.6,375.5 L547.6,299.0 L547.5,298.3 L547.3,297.7 L546.8,297.2 L546.3,296.7 L545.7,296.5 L545.0,296.4 L544.3,296.5 L543.7,296.7 L543.2,297.2 L542.7,297.7 L542.5,298.3 L542.4,299.0 Z" stroke-width="1.72" />
<path d="M542.6,299.3 L542.6,376.5" stroke-width="1.61" />
<path d="M549.9,374.5 L550.0,375.2 L550.2,375.8 L550.7,376.3 L551.2,376.8 L551.8,377.0 L552.5,377.1 L553.2,377.0 L553.8,376.8 L554.3,376.3 L554.8,375.8 L555.0,375.2 L555.1,374.5 L555.1,296.0 L555.0,295.3 L554.8,294.7 L554.3,294.2 L553.8,293.7 L553.2,293.5 L552.5,293.4 L551.8,293.5 L551.2,293.7 L550.7,294.2 L550.2,294.7 L550.0,295.3 L549.9,296.0 Z" stroke-width="1.72" />
<path d="M550.1,296.3 L550.1,375.5" stroke-width="1.61" />
<path d="M331.4,460.2 L331.5,460.8 L331.7,461.3 L332.0,461.8 L332.5,462.1 L333.0,462.3 L333.6,462.4 L334.2,462.3 L334.7,462.1 L335.2,461.8 L335.5,461.3 L335.7,460.8 L335.8,460.2 L335.8,425.5 L335.7,424.9 L335.5,424.4 L335.2,423.9 L334.7,423.6 L334.2,423.4 L333.6,423.3 L333.0,423.4 L332.5,423.6 L332.0,423.9 L331.7,424.4 L331.5,424.9 L331.4,425.5 Z" stroke-width="1.72" />
<path d="M331.5,425.8 L331.5,460.9" stroke-width="1.61" />
<path d="M338.1,462.5 L338.2,463.0 L338.4,463.6 L338.7,464.0 L339.2,464.4 L339.7,464.6 L340.3,464.7 L340.9,464.6 L341.4,464.4 L341.9,464.0 L342.2,463.6 L342.4,463.0 L342.5,462.5 L342.5,427.7 L342.4,427.1 L342.2,426.6 L341.9,426.2 L341.4,425.8 L340.9,425.6 L340.3,425.5 L339.7,425.6 L339.2,425.8 L338.7,426.2 L338.4,426.6 L338.2,427.1 L338.1,427.7 Z" stroke-width="1.72" />
<path d="M338.2,428.0 L338.2,463.2" stroke-width="1.61" />
<path d="M344.8,464.8 L344.9,465.3 L345.1,465.9 L345.4,466.3 L345.9,466.7 L346.4,466.9 L347.0,467.0 L347.6,466.9 L348.1,466.7 L348.6,466.3 L348.9,465.9 L349.1,465.3 L349.2,464.8 L349.2,429.9 L349.1,429.4 L348.9,428.8 L348.6,428.4 L348.1,428.0 L347.6,427.8 L347.0,427.7 L346.4,427.8 L345.9,428.0 L345.4,428.4 L345.1,428.8 L344.9,429.4 L344.8,429.9 Z" stroke-width="1.72" />
<path d="M344.9,430.2 L344.9,465.5" stroke-width="1.61" />
<path d="M351.4,467.0 L351.5,467.6 L351.7,468.1 L352.0,468.6 L352.5,468.9 L353.0,469.1 L353.6,469.2 L354.2,469.1 L354.7,468.9 L355.2,468.6 L355.5,468.1 L355.7,467.6 L355.8,467.0 L355.8,432.1 L355.7,431.5 L355.5,431.0 L355.2,430.5 L354.7,430.2 L354.2,430.0 L353.6,429.9 L353.0,430.0 L352.5,430.2 L352.0,430.5 L351.7,431.0 L351.5,431.5 L351.4,432.1 Z" stroke-width="1.72" />
<path d="M351.5,432.4 L351.5,467.7" stroke-width="1.61" />
<path d="M357.2,469.0 L357.3,469.5 L357.5,470.1 L357.8,470.5 L358.3,470.9 L358.8,471.1 L359.4,471.2 L360.0,471.1 L360.5,470.9 L361.0,470.5 L361.3,470.1 L361.5,469.5 L361.6,469.0 L361.6,434.0 L361.5,433.4 L361.3,432.9 L361.0,432.5 L360.5,432.1 L360.0,431.9 L359.4,431.8 L358.8,431.9 L358.3,432.1 L357.8,432.5 L357.5,432.9 L357.3,433.4 L357.2,434.0 Z" stroke-width="1.72" />
<path d="M357.3,434.3 L357.3,469.7" stroke-width="1.61" />
<path d="M363.1,471.0 L363.2,471.5 L363.4,472.1 L363.7,472.5 L364.2,472.9 L364.7,473.1 L365.3,473.2 L365.9,473.1 L366.4,472.9 L366.9,472.5 L367.2,472.1 L367.4,471.5 L367.5,471.0 L367.5,436.0 L367.4,435.4 L367.2,434.9 L366.9,434.4 L366.4,434.1 L365.9,433.8 L365.3,433.8 L364.7,433.8 L364.2,434.1 L363.7,434.4 L363.4,434.9 L363.2,435.4 L363.1,436.0 Z" stroke-width="1.72" />
<path d="M363.2,436.3 L363.2,471.7" stroke-width="1.61" />
<path d="M369.8,473.3 L369.9,473.8 L370.1,474.4 L370.4,474.8 L370.9,475.2 L371.4,475.4 L372.0,475.5 L372.6,475.4 L373.1,475.2 L373.6,474.8 L373.9,474.4 L374.1,473.8 L374.2,473.3 L374.2,438.2 L374.1,437.6 L373.9,437.1 L373.6,436.6 L373.1,436.3 L372.6,436.0 L372.0,436.0 L371.4,436.0 L370.9,436.3 L370.4,436.6 L370.1,437.1 L369.9,437.6 L369.8,438.2 Z" stroke-width="1.72" />
<path d="M369.9,438.5 L369.9,474.0" stroke-width="1.61" />
<path d="M376.4,475.5 L376.5,476.1 L376.7,476.6 L377.0,477.1 L377.5,477.4 L378.0,477.6 L378.6,477.7 L379.2,477.6 L379.7,477.4 L380.2,477.1 L380.5,476.6 L380.7,476.1 L380.8,475.5 L380.8,440.4 L380.7,439.8 L380.5,439.2 L380.2,438.8 L379.7,438.4 L379.2,438.2 L378.6,438.2 L378.0,438.2 L377.5,438.4 L377.0,438.8 L376.7,439.2 L376.5,439.8 L376.4,440.4 Z" stroke-width="1.72" />
<path d="M376.5,440.7 L376.5,476.2" stroke-width="1.61" />
<path d="M383.0,477.7 L383.1,478.3 L383.3,478.8 L383.6,479.3 L384.1,479.6 L384.6,479.9 L385.2,479.9 L385.8,479.9 L386.3,479.6 L386.8,479.3 L387.1,478.8 L387.3,478.3 L387.4,477.7 L387.4,442.5 L387.3,442.0 L387.1,441.4 L386.8,441.0 L386.3,440.6 L385.8,440.4 L385.2,440.3 L384.6,440.4 L384.1,440.6 L383.6,441.0 L383.3,441.4 L383.1,442.0 L383.0,442.5 Z" stroke-width="1.72" />
<path d="M383.1,442.8 L383.1,478.4" stroke-width="1.61" />
<path d="M389.7,480.0 L389.8,480.6 L390.0,481.1 L390.3,481.6 L390.8,481.9 L391.3,482.1 L391.9,482.2 L392.5,482.1 L393.0,481.9 L393.5,481.6 L393.8,481.1 L394.0,480.6 L394.1,480.0 L394.1,444.7 L394.0,444.2 L393.8,443.6 L393.5,443.2 L393.0,442.8 L392.5,442.6 L391.9,442.5 L391.3,442.6 L390.8,442.8 L390.3,443.2 L390.0,443.6 L389.8,444.2 L389.7,444.7 Z" stroke-width="1.72" />
<path d="M389.8,445.0 L389.8,480.7" stroke-width="1.61" />
<path d="M396.3,482.3 L396.4,482.8 L396.6,483.4 L396.9,483.8 L397.4,484.2 L397.9,484.4 L398.5,484.5 L399.1,484.4 L399.6,484.2 L400.1,483.8 L400.4,483.4 L400.6,482.8 L400.7,482.3 L400.7,446.9 L400.6,446.3 L400.4,445.8 L400.1,445.4 L399.6,445.0 L399.1,444.8 L398.5,444.7 L397.9,444.8 L397.4,445.0 L396.9,445.4 L396.6,445.8 L396.4,446.3 L396.3,446.9 Z" stroke-width="1.72" />
<path d="M396.4,447.2 L396.4,483.0" stroke-width="1.61" />
<path d="M403.0,484.5 L403.1,485.1 L403.3,485.6 L403.6,486.1 L404.1,486.4 L404.6,486.7 L405.2,486.7 L405.8,486.7 L406.3,486.4 L406.8,486.1 L407.1,485.6 L407.3,485.1 L407.4,484.5 L407.4,449.1 L407.3,448.6 L407.1,448.0 L406.8,447.6 L406.3,447.2 L405.8,447.0 L405.2,446.9 L404.6,447.0 L404.1,447.2 L403.6,447.6 L403.3,448.0 L403.1,448.6 L403.0,449.1 Z" stroke-width="1.72" />
<path d="M403.1,449.4 L403.1,485.2" stroke-width="1.61" />
<ellipse cx="501.5" cy="452.9" rx="43" ry="45" stroke-width="3"/>
<ellipse cx="502" cy="452.8" rx="34.5" ry="36.2" stroke-width="1.2"/>
<path d="M531,423 C522,426 518,433 522,439 C526,444 535,442 540,437" stroke-width="1.38" />
<path d="M289.5,526 L289.5,507 Q290,501 298,501 Q306,501 306.5,507 L306.5,526" stroke-width="1.49" />
<path d="M298,504 Q302,503.5 302.5,507 L302.5,525" stroke-width="1.15" />
<path d="M549,505 L549,484 Q549,478 557,478 Q565,478 565,484 L565,502" stroke-width="1.49" />
<path d="M558,481 Q561.5,481 561.5,485 L561.5,501" stroke-width="1.15" />
<path d="M287,534 L287,541 Q290,547 300,547 Q310,547 313,541 L313,531" stroke-width="2.2" />
<path d="M522.5,511 L522.5,517 Q525,524 535,524 Q545,524 548,517 L548,509" stroke-width="2.2" />
<path d="M432,517 L433,499 Q434,492.5 442,492.5 Q451,492.5 452.5,499 L453.5,511 Q455,514 460,514" stroke-width="1.49" />
<path d="M436,517 L437,502 Q438,496 442.5,496 Q448,496 449,502 L449.5,515" stroke-width="1.15" />
<path d="M322.8,168.0 L322.9,168.8 L322.9,169.8 L323.0,170.9 L323.1,172.2 L323.2,173.7 L323.3,175.1 L323.5,176.6 L323.6,178.0 L323.8,179.3 L324.0,180.7 L324.2,182.0 L324.4,183.4 L324.6,184.8 L324.8,186.4 L324.9,188.1 L325.0,190.0 L325.0,192.1 L325.0,194.3 L324.9,196.7 L324.8,199.2 L324.7,201.8 L324.6,204.5 L324.4,207.2 L324.3,210.0 L324.1,212.9 L324.0,216.0 L323.8,219.2 L323.6,222.5 L323.3,225.8 L323.1,229.0 L323.0,232.1 L322.8,235.0 L322.7,237.6 L322.5,239.8 L322.4,241.8 L322.2,243.8 L322.1,245.9 L322.1,248.4 L322.0,251.3 L322.0,255.0 L322.0,259.4 L322.1,264.4 L322.1,269.8 L322.2,275.6 L322.4,281.7 L322.5,287.8 L322.7,294.0 L323.0,300.0 L323.3,306.0 L323.7,312.1 L324.1,318.4 L324.6,324.7 L325.1,331.0 L325.6,337.4 L326.1,343.7 L326.6,350.0 L327.1,356.3 L327.6,362.7 L328.1,369.2 L328.6,375.6 L329.1,382.0 L329.6,388.2 L330.2,394.2 L330.8,400.0 L331.4,405.5 L332.1,410.9 L332.8,416.2 L333.5,421.2 L334.2,426.2 L335.0,430.9 L335.8,435.5 L336.7,440.0 L337.6,444.3 L338.4,448.5 L339.3,452.4 L340.3,456.3 L341.3,460.0 L342.4,463.5 L343.6,466.8 L345.0,470.0 L346.6,473.0 L348.3,475.8 L350.1,478.4 L352.1,480.8 L354.1,483.1 L356.1,485.3 L358.1,487.4 L360.0,489.4 L361.9,491.3 L363.8,493.1 L365.6,494.7 L367.5,496.2 L369.4,497.7 L371.2,499.0 L373.1,500.2 L375.0,501.4 L376.8,502.5 L378.6,503.4 L380.3,504.3 L382.0,505.0 L383.8,505.7 L385.7,506.3 L387.8,506.9 L390.0,507.4 L392.4,507.9 L394.9,508.3 L397.5,508.7 L400.3,509.0 L403.1,509.2 L406.1,509.4 L409.2,509.5 L412.3,509.6 L415.8,509.6 L419.7,509.4 L423.9,509.2 L428.0,509.0 L432.1,508.7 L435.7,508.5 L438.7,508.2 L441.0,508.1" stroke="#231f20" stroke-width="6.6"/>
<path d="M322.8,168.0 L322.9,168.8 L322.9,169.8 L323.0,170.9 L323.1,172.2 L323.2,173.7 L323.3,175.1 L323.5,176.6 L323.6,178.0 L323.8,179.3 L324.0,180.7 L324.2,182.0 L324.4,183.4 L324.6,184.8 L324.8,186.4 L324.9,188.1 L325.0,190.0 L325.0,192.1 L325.0,194.3 L324.9,196.7 L324.8,199.2 L324.7,201.8 L324.6,204.5 L324.4,207.2 L324.3,210.0 L324.1,212.9 L324.0,216.0 L323.8,219.2 L323.6,222.5 L323.3,225.8 L323.1,229.0 L323.0,232.1 L322.8,235.0 L322.7,237.6 L322.5,239.8 L322.4,241.8 L322.2,243.8 L322.1,245.9 L322.1,248.4 L322.0,251.3 L322.0,255.0 L322.0,259.4 L322.1,264.4 L322.1,269.8 L322.2,275.6 L322.4,281.7 L322.5,287.8 L322.7,294.0 L323.0,300.0 L323.3,306.0 L323.7,312.1 L324.1,318.4 L324.6,324.7 L325.1,331.0 L325.6,337.4 L326.1,343.7 L326.6,350.0 L327.1,356.3 L327.6,362.7 L328.1,369.2 L328.6,375.6 L329.1,382.0 L329.6,388.2 L330.2,394.2 L330.8,400.0 L331.4,405.5 L332.1,410.9 L332.8,416.2 L333.5,421.2 L334.2,426.2 L335.0,430.9 L335.8,435.5 L336.7,440.0 L337.6,444.3 L338.4,448.5 L339.3,452.4 L340.3,456.3 L341.3,460.0 L342.4,463.5 L343.6,466.8 L345.0,470.0 L346.6,473.0 L348.3,475.8 L350.1,478.4 L352.1,480.8 L354.1,483.1 L356.1,485.3 L358.1,487.4 L360.0,489.4 L361.9,491.3 L363.8,493.1 L365.6,494.7 L367.5,496.2 L369.4,497.7 L371.2,499.0 L373.1,500.2 L375.0,501.4 L376.8,502.5 L378.6,503.4 L380.3,504.3 L382.0,505.0 L383.8,505.7 L385.7,506.3 L387.8,506.9 L390.0,507.4 L392.4,507.9 L394.9,508.3 L397.5,508.7 L400.3,509.0 L403.1,509.2 L406.1,509.4 L409.2,509.5 L412.3,509.6 L415.8,509.6 L419.7,509.4 L423.9,509.2 L428.0,509.0 L432.1,508.7 L435.7,508.5 L438.7,508.2 L441.0,508.1" stroke="#fff" stroke-width="2.2"/>
<path d="M385.5,164.9 L385.4,167.1 L385.2,169.3 L384.8,171.5 L384.3,173.6 L383.6,175.7 L382.8,177.8 L381.8,179.7 L380.7,181.6 L379.5,183.5 L378.1,185.2 L376.6,186.9 L375.0,188.4 L373.4,189.8 L371.6,191.1 L369.7,192.3 L367.8,193.3 L365.7,194.2 L363.7,195.0 L361.5,195.6 L359.4,196.0 L357.2,196.3 L355.0,196.5 L352.8,196.5 L350.6,196.3 L348.4,196.0 L346.3,195.6 L344.1,195.0 L342.1,194.2 L340.0,193.3 L338.1,192.3 L336.2,191.1 L334.4,189.8 L332.8,188.4 L331.2,186.9 L329.7,185.2 L328.3,183.5 L327.1,181.6 L326.0,179.7 L325.0,177.8 L324.2,175.7 L323.5,173.6 L323.0,171.5 L322.6,169.3 L322.4,167.1 L322.3,164.9 L322.4,162.7 L322.6,160.5 L323.0,158.3 L323.5,156.2 L324.2,154.1 L325.0,152.0 L326.0,150.1 L327.1,148.2 L328.3,146.3 L329.7,144.6 L331.2,142.9 L332.8,141.4 L334.4,140.0 L336.2,138.7 L338.1,137.5 L340.0,136.5 L342.1,135.6 L344.1,134.8 L346.3,134.2 L348.4,133.8 L350.6,133.5 L352.8,133.3 L355.0,133.3 L357.2,133.5 L359.4,133.8 L361.5,134.2 L363.7,134.8 L365.7,135.6 L367.8,136.5 L369.7,137.5 L371.6,138.7 L373.4,140.0 L375.0,141.4 L376.6,142.9 L378.1,144.6 L379.5,146.3 L380.7,148.2 L381.8,150.1 L382.8,152.0 L383.6,154.1 L384.3,156.2 L384.8,158.3 L385.2,160.5 L385.4,162.7 Z" stroke="#231f20" stroke-width="5.4"/>
<path d="M385.5,164.9 L385.4,167.1 L385.2,169.3 L384.8,171.5 L384.3,173.6 L383.6,175.7 L382.8,177.8 L381.8,179.7 L380.7,181.6 L379.5,183.5 L378.1,185.2 L376.6,186.9 L375.0,188.4 L373.4,189.8 L371.6,191.1 L369.7,192.3 L367.8,193.3 L365.7,194.2 L363.7,195.0 L361.5,195.6 L359.4,196.0 L357.2,196.3 L355.0,196.5 L352.8,196.5 L350.6,196.3 L348.4,196.0 L346.3,195.6 L344.1,195.0 L342.1,194.2 L340.0,193.3 L338.1,192.3 L336.2,191.1 L334.4,189.8 L332.8,188.4 L331.2,186.9 L329.7,185.2 L328.3,183.5 L327.1,181.6 L326.0,179.7 L325.0,177.8 L324.2,175.7 L323.5,173.6 L323.0,171.5 L322.6,169.3 L322.4,167.1 L322.3,164.9 L322.4,162.7 L322.6,160.5 L323.0,158.3 L323.5,156.2 L324.2,154.1 L325.0,152.0 L326.0,150.1 L327.1,148.2 L328.3,146.3 L329.7,144.6 L331.2,142.9 L332.8,141.4 L334.4,140.0 L336.2,138.7 L338.1,137.5 L340.0,136.5 L342.1,135.6 L344.1,134.8 L346.3,134.2 L348.4,133.8 L350.6,133.5 L352.8,133.3 L355.0,133.3 L357.2,133.5 L359.4,133.8 L361.5,134.2 L363.7,134.8 L365.7,135.6 L367.8,136.5 L369.7,137.5 L371.6,138.7 L373.4,140.0 L375.0,141.4 L376.6,142.9 L378.1,144.6 L379.5,146.3 L380.7,148.2 L381.8,150.1 L382.8,152.0 L383.6,154.1 L384.3,156.2 L384.8,158.3 L385.2,160.5 L385.4,162.7 Z" stroke="#fff" stroke-width="1.8"/>
<path d="M380.1,165.9 L380.0,167.8 L379.8,169.7 L379.5,171.5 L379.1,173.3 L378.5,175.1 L377.9,176.9 L377.1,178.6 L376.2,180.2 L375.2,181.8 L374.0,183.3 L372.8,184.7 L371.5,186.0 L370.1,187.2 L368.7,188.3 L367.1,189.3 L365.6,190.2 L363.9,190.9 L362.2,191.6 L360.5,192.1 L358.7,192.5 L356.9,192.8 L355.1,192.9 L353.3,192.9 L351.5,192.8 L349.7,192.5 L347.9,192.1 L346.2,191.6 L344.5,190.9 L342.8,190.2 L341.2,189.3 L339.7,188.3 L338.3,187.2 L336.9,186.0 L335.6,184.7 L334.4,183.3 L333.2,181.8 L332.2,180.2 L331.3,178.6 L330.5,176.9 L329.9,175.1 L329.3,173.3 L328.9,171.5 L328.6,169.7 L328.4,167.8 L328.3,165.9 L328.4,164.0 L328.6,162.1 L328.9,160.3 L329.3,158.5 L329.9,156.7 L330.5,154.9 L331.3,153.2 L332.2,151.6 L333.2,150.0 L334.4,148.5 L335.6,147.1 L336.9,145.8 L338.3,144.6 L339.7,143.5 L341.2,142.5 L342.8,141.6 L344.5,140.9 L346.2,140.2 L347.9,139.7 L349.7,139.3 L351.5,139.0 L353.3,138.9 L355.1,138.9 L356.9,139.0 L358.7,139.3 L360.5,139.7 L362.2,140.2 L363.9,140.9 L365.6,141.6 L367.1,142.5 L368.7,143.5 L370.1,144.6 L371.5,145.8 L372.8,147.1 L374.0,148.5 L375.2,150.0 L376.2,151.6 L377.1,153.2 L377.9,154.9 L378.5,156.7 L379.1,158.5 L379.5,160.3 L379.8,162.1 L380.0,164.0 Z" stroke="#231f20" stroke-width="5.4"/>
<path d="M380.1,165.9 L380.0,167.8 L379.8,169.7 L379.5,171.5 L379.1,173.3 L378.5,175.1 L377.9,176.9 L377.1,178.6 L376.2,180.2 L375.2,181.8 L374.0,183.3 L372.8,184.7 L371.5,186.0 L370.1,187.2 L368.7,188.3 L367.1,189.3 L365.6,190.2 L363.9,190.9 L362.2,191.6 L360.5,192.1 L358.7,192.5 L356.9,192.8 L355.1,192.9 L353.3,192.9 L351.5,192.8 L349.7,192.5 L347.9,192.1 L346.2,191.6 L344.5,190.9 L342.8,190.2 L341.2,189.3 L339.7,188.3 L338.3,187.2 L336.9,186.0 L335.6,184.7 L334.4,183.3 L333.2,181.8 L332.2,180.2 L331.3,178.6 L330.5,176.9 L329.9,175.1 L329.3,173.3 L328.9,171.5 L328.6,169.7 L328.4,167.8 L328.3,165.9 L328.4,164.0 L328.6,162.1 L328.9,160.3 L329.3,158.5 L329.9,156.7 L330.5,154.9 L331.3,153.2 L332.2,151.6 L333.2,150.0 L334.4,148.5 L335.6,147.1 L336.9,145.8 L338.3,144.6 L339.7,143.5 L341.2,142.5 L342.8,141.6 L344.5,140.9 L346.2,140.2 L347.9,139.7 L349.7,139.3 L351.5,139.0 L353.3,138.9 L355.1,138.9 L356.9,139.0 L358.7,139.3 L360.5,139.7 L362.2,140.2 L363.9,140.9 L365.6,141.6 L367.1,142.5 L368.7,143.5 L370.1,144.6 L371.5,145.8 L372.8,147.1 L374.0,148.5 L375.2,150.0 L376.2,151.6 L377.1,153.2 L377.9,154.9 L378.5,156.7 L379.1,158.5 L379.5,160.3 L379.8,162.1 L380.0,164.0 Z" stroke="#fff" stroke-width="1.8"/>
<path d="M374.2,167.9 L374.2,169.6 L374.0,171.3 L373.8,172.9 L373.4,174.5 L373.0,176.1 L372.5,177.7 L371.8,179.2 L371.1,180.7 L370.3,182.1 L369.5,183.4 L368.5,184.6 L367.5,185.8 L366.4,186.9 L365.3,187.9 L364.1,188.8 L362.9,189.6 L361.6,190.2 L360.2,190.8 L358.9,191.3 L357.5,191.6 L356.1,191.9 L354.7,192.0 L353.3,192.0 L351.9,191.9 L350.5,191.6 L349.1,191.3 L347.8,190.8 L346.4,190.2 L345.1,189.6 L343.9,188.8 L342.7,187.9 L341.6,186.9 L340.5,185.8 L339.5,184.6 L338.5,183.4 L337.7,182.1 L336.9,180.7 L336.2,179.2 L335.5,177.7 L335.0,176.1 L334.6,174.5 L334.2,172.9 L334.0,171.3 L333.8,169.6 L333.8,167.9 L333.8,166.2 L334.0,164.5 L334.2,162.9 L334.6,161.3 L335.0,159.7 L335.5,158.1 L336.2,156.6 L336.9,155.1 L337.7,153.7 L338.5,152.4 L339.5,151.2 L340.5,150.0 L341.6,148.9 L342.7,147.9 L343.9,147.0 L345.1,146.2 L346.4,145.6 L347.8,145.0 L349.1,144.5 L350.5,144.2 L351.9,143.9 L353.3,143.8 L354.7,143.8 L356.1,143.9 L357.5,144.2 L358.9,144.5 L360.2,145.0 L361.6,145.6 L362.9,146.2 L364.1,147.0 L365.3,147.9 L366.4,148.9 L367.5,150.0 L368.5,151.2 L369.5,152.4 L370.3,153.7 L371.1,155.1 L371.8,156.6 L372.5,158.1 L373.0,159.7 L373.4,161.3 L373.8,162.9 L374.0,164.5 L374.2,166.2 Z" stroke="#231f20" stroke-width="5.4"/>
<path d="M374.2,167.9 L374.2,169.6 L374.0,171.3 L373.8,172.9 L373.4,174.5 L373.0,176.1 L372.5,177.7 L371.8,179.2 L371.1,180.7 L370.3,182.1 L369.5,183.4 L368.5,184.6 L367.5,185.8 L366.4,186.9 L365.3,187.9 L364.1,188.8 L362.9,189.6 L361.6,190.2 L360.2,190.8 L358.9,191.3 L357.5,191.6 L356.1,191.9 L354.7,192.0 L353.3,192.0 L351.9,191.9 L350.5,191.6 L349.1,191.3 L347.8,190.8 L346.4,190.2 L345.1,189.6 L343.9,188.8 L342.7,187.9 L341.6,186.9 L340.5,185.8 L339.5,184.6 L338.5,183.4 L337.7,182.1 L336.9,180.7 L336.2,179.2 L335.5,177.7 L335.0,176.1 L334.6,174.5 L334.2,172.9 L334.0,171.3 L333.8,169.6 L333.8,167.9 L333.8,166.2 L334.0,164.5 L334.2,162.9 L334.6,161.3 L335.0,159.7 L335.5,158.1 L336.2,156.6 L336.9,155.1 L337.7,153.7 L338.5,152.4 L339.5,151.2 L340.5,150.0 L341.6,148.9 L342.7,147.9 L343.9,147.0 L345.1,146.2 L346.4,145.6 L347.8,145.0 L349.1,144.5 L350.5,144.2 L351.9,143.9 L353.3,143.8 L354.7,143.8 L356.1,143.9 L357.5,144.2 L358.9,144.5 L360.2,145.0 L361.6,145.6 L362.9,146.2 L364.1,147.0 L365.3,147.9 L366.4,148.9 L367.5,150.0 L368.5,151.2 L369.5,152.4 L370.3,153.7 L371.1,155.1 L371.8,156.6 L372.5,158.1 L373.0,159.7 L373.4,161.3 L373.8,162.9 L374.0,164.5 L374.2,166.2 Z" stroke="#fff" stroke-width="1.8"/>
<path d="M360.0,133.3 L360.9,133.4 L362.2,133.6 L363.8,133.8 L365.4,134.0 L367.2,134.2 L368.9,134.6 L370.6,135.0 L372.0,135.5 L373.3,136.1 L374.5,136.7 L375.7,137.4 L376.9,138.2 L378.0,139.0 L379.1,140.0 L380.1,141.2 L381.0,142.5 L381.9,144.0 L382.7,145.6 L383.4,147.4 L384.1,149.3 L384.8,151.3 L385.4,153.5 L386.0,155.7 L386.5,158.0 L387.0,160.4 L387.5,162.9 L387.9,165.4 L388.3,168.1 L388.6,170.9 L388.9,173.8 L389.2,176.8 L389.5,180.0 L389.7,183.3 L389.9,186.8 L390.0,190.4 L390.2,194.2 L390.2,198.0 L390.3,202.0 L390.4,206.0 L390.5,210.0 L390.6,214.4 L390.7,219.2 L390.7,224.3 L390.8,229.4 L390.9,234.2 L390.9,238.6 L391.0,242.3 L391.0,245.0" stroke="#231f20" stroke-width="6.5"/>
<path d="M360.0,133.3 L360.9,133.4 L362.2,133.6 L363.8,133.8 L365.4,134.0 L367.2,134.2 L368.9,134.6 L370.6,135.0 L372.0,135.5 L373.3,136.1 L374.5,136.7 L375.7,137.4 L376.9,138.2 L378.0,139.0 L379.1,140.0 L380.1,141.2 L381.0,142.5 L381.9,144.0 L382.7,145.6 L383.4,147.4 L384.1,149.3 L384.8,151.3 L385.4,153.5 L386.0,155.7 L386.5,158.0 L387.0,160.4 L387.5,162.9 L387.9,165.4 L388.3,168.1 L388.6,170.9 L388.9,173.8 L389.2,176.8 L389.5,180.0 L389.7,183.3 L389.9,186.8 L390.0,190.4 L390.2,194.2 L390.2,198.0 L390.3,202.0 L390.4,206.0 L390.5,210.0 L390.6,214.4 L390.7,219.2 L390.7,224.3 L390.8,229.4 L390.9,234.2 L390.9,238.6 L391.0,242.3 L391.0,245.0" stroke="#fff" stroke-width="3.0"/>
<path d="M352.6,131 Q354.5,128.5 356.6,131 L356.6,151 L348.5,151 L348.5,149 L352.6,148.5 Z" fill="#fff" stroke-width="1.1"/>
<rect x="385.2" y="245.3" width="11.3" height="6" rx="1.5" fill="#231f20" stroke-width="0.8"/>
<path d="M386.8,248.3 L395,248.3" stroke-width="0.92" stroke="#777"/>
<path d="M386.5,251.5 L386,264 M395,251.5 L395.5,264" stroke-width="1.38" />
<path d="M386.5,256 Q391,253.5 394.5,255.5 M386.3,260.5 Q391,258 395,260" stroke-width="1.26" />
<ellipse cx="391.7" cy="272.6" rx="14" ry="8.8" fill="#fff" stroke-width="2"/>
<path d="M378.3,271.8 Q391.7,278.5 405.1,271.8" stroke-width="1.84" />
<path d="M387.5,276 L387.5,286.5 M390.2,277 L390.2,292.5 M397.7,275 L397.7,287.5" stroke-width="2.5" />
</g>
<!-- ===== CALLOUTS ===== -->
<g fill="none" stroke="#fff" stroke-width="4.5" stroke-linecap="round" stroke-linejoin="round">
<polyline points="683,23.5 478.4,23.5 394.5,265"/>
<polyline points="393.4,254.6 394.5,265 401.8,257.5"/>
<line x1="684" y1="307.6" x2="522.5" y2="148.75"/>
<polyline points="532.4,152.3 522.5,148.75 526.2,158.6"/>
<line x1="684" y1="307.6" x2="555" y2="321.3"/>
<polyline points="564.0,315.9 555,321.3 564.9,324.7"/>
<line x1="684" y1="307.6" x2="371.8" y2="453"/>
<polyline points="378.6,445.0 371.8,453 382.3,453.0"/>
<line x1="683.6" y1="453.5" x2="507.5" y2="453.5"/>
<polyline points="518.4,448.4 507.5,453.5 518.4,458.6"/>
<polyline points="683.6,577.5 536.5,577.5 536.5,528"/>
<polyline points="540.9,537.5 536.5,528 532.1,537.5"/>
<line x1="536.5" y1="577.5" x2="313.4" y2="543.1"/>
<polyline points="324.0,540.0 313.4,543.1 322.6,549.2"/>
</g>
<g fill="none" stroke="#231f20" stroke-width="1.3" stroke-linecap="round" stroke-linejoin="round">
<polyline points="683,23.5 478.4,23.5 394.5,265"/>
<polyline points="393.4,254.6 394.5,265 401.8,257.5"/>
<line x1="684" y1="307.6" x2="522.5" y2="148.75"/>
<polyline points="532.4,152.3 522.5,148.75 526.2,158.6"/>
<line x1="684" y1="307.6" x2="555" y2="321.3"/>
<polyline points="564.0,315.9 555,321.3 564.9,324.7"/>
<line x1="684" y1="307.6" x2="371.8" y2="453"/>
<polyline points="378.6,445.0 371.8,453 382.3,453.0"/>
<line x1="683.6" y1="453.5" x2="507.5" y2="453.5"/>
<polyline points="518.4,448.4 507.5,453.5 518.4,458.6"/>
<polyline points="683.6,577.5 536.5,577.5 536.5,528"/>
<polyline points="540.9,537.5 536.5,528 532.1,537.5"/>
<line x1="536.5" y1="577.5" x2="313.4" y2="543.1"/>
<polyline points="324.0,540.0 313.4,543.1 322.6,549.2"/>
</g>
<!-- ===== LABELS ===== -->
<text x="694" y="32.3" font-size="25" textLength="123" lengthAdjust="spacingAndGlyphs">DÂY ĐIỆN</text>
<text x="696" y="316" font-size="23.6" textLength="109" lengthAdjust="spacingAndGlyphs">ĐIỂM VÀO</text>
<text x="696" y="463.6" font-size="23.6" textLength="89.8" lengthAdjust="spacingAndGlyphs">ĐIỂM RA</text>
<text x="694.2" y="586.2" font-size="24.4" textLength="132.8" lengthAdjust="spacingAndGlyphs">CÁC CHÂN</text>

</svg>
</body></html>
